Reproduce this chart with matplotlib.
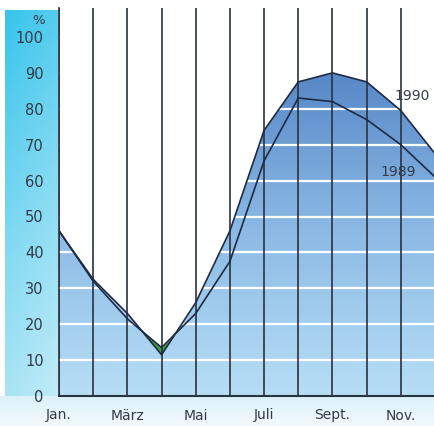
import numpy as np
import matplotlib
matplotlib.use("Agg")
import matplotlib.pyplot as plt
from matplotlib.colors import LinearSegmentedColormap

# data (percent)
months = ["Jan.", "Feb.", "März", "Apr.", "Mai", "Juni", "Juli", "Aug.", "Sept.", "Okt.", "Nov.", "Dez."]
val_1990 = [46, 32.5, 23, 11.5, 26, 46, 74, 87.5, 90, 87.5, 79.5, 67.5]
val_1989 = [46, 32, 21.5, 13.5, 23, 37.5, 65.5, 83, 82, 77, 70, 61]
tick_months = [0, 2, 4, 6, 8, 10]
y_ticks = [0, 10, 20, 30, 40, 50, 60, 70, 80, 90, 100]

W, H = 435, 426
fig = plt.figure(figsize=(W / 100, H / 100), dpi=100)

# background: pale blue band below, cyan strip on the left
bg = fig.add_axes([0, 0, 1, 1])
bg.set_xlim(0, W)
bg.set_ylim(0, H)
bg.axis("off")
bg.add_patch(plt.Rectangle((0, 0), W, H, color="white", zorder=0))

yy, xx = np.mgrid[0:1:100j, 0:1:40j]
strip_val = 0.8 * yy + 0.2 * (1 - xx)
strip_cmap = LinearSegmentedColormap.from_list("strip", ["#c4ecf8", "#84daf2", "#38c4ec"])
bg.imshow(strip_val, cmap=strip_cmap, extent=[5, 59, 20, H - 10], aspect="auto",
          origin="lower", zorder=1)

band = np.linspace(0, 1, 50).reshape(-1, 1)
band_cmap = LinearSegmentedColormap.from_list("band", ["#f2fafd", "#dcf1fa"])
bg.imshow(band, cmap=band_cmap, extent=[0, W, 0, 30], aspect="auto", origin="lower", zorder=2)

# main axes
ax = fig.add_axes([59 / W, 30 / H, 1 - 59 / W, (H - 38) / H])
ax.patch.set_alpha(0)
ymax = (396 - 8) / 3.59
ax.set_xlim(0, 11)
ax.set_ylim(0, ymax)
x = np.arange(len(months))

# gradient fill under 1990
fill = ax.fill_between(x, val_1990, 0, color="none", lw=0)
grad = np.linspace(0, 1, 200).reshape(-1, 1)
fill_cmap = LinearSegmentedColormap.from_list("fill", ["#b6def5", "#8cbae5", "#5586c6"])
im = ax.imshow(grad, cmap=fill_cmap, extent=[0, 11, 0, 92], aspect="auto", origin="lower", zorder=1)
im.set_clip_path(fill.get_paths()[0], transform=ax.transData)

# green overlap near April
ax.fill_between(x, val_1989, val_1990, where=np.array(val_1989) > np.array(val_1990),
                interpolate=True, color="#3fa044", lw=0, zorder=2)

# white grid lines
for v in y_ticks[1:]:
    ax.axhline(v, color="white", lw=1.6, zorder=3)

# month lines
for m in x:
    ax.axvline(m, color="#2b3240", lw=1.2, zorder=4)

ax.plot(x, val_1990, color="#1f2a44", lw=1.2, zorder=5)
ax.plot(x, val_1989, color="#1f2a44", lw=1.2, zorder=5)

ax.text(10.34, 83.5, "1990", ha="center", va="center", fontsize=10, color="#333a48", zorder=6)
ax.text(9.93, 62.4, "1989", ha="center", va="center", fontsize=10, color="#333a48", zorder=6)

for s in ["top", "right"]:
    ax.spines[s].set_visible(False)
ax.spines["left"].set_color("#2b3240")
ax.spines["bottom"].set_color("#2b3240")
ax.spines["bottom"].set_linewidth(1.5)
ax.spines["left"].set_linewidth(1.2)
ax.spines["bottom"].set_zorder(6)

ax.set_yticks(y_ticks)
ax.set_yticklabels([str(v) for v in y_ticks], fontsize=10.5, color="#333a48")
ax.tick_params(axis="y", length=0, pad=11)
ax.set_xticks(tick_months)
ax.set_xticklabels([months[i] for i in tick_months], fontsize=10, color="#333a48")
ax.tick_params(axis="x", length=0, pad=9)
ax.text(-0.6, 104.5, "%", ha="center", va="center", fontsize=9.5, color="#333a48")

fig.savefig("out.png", dpi=100)
